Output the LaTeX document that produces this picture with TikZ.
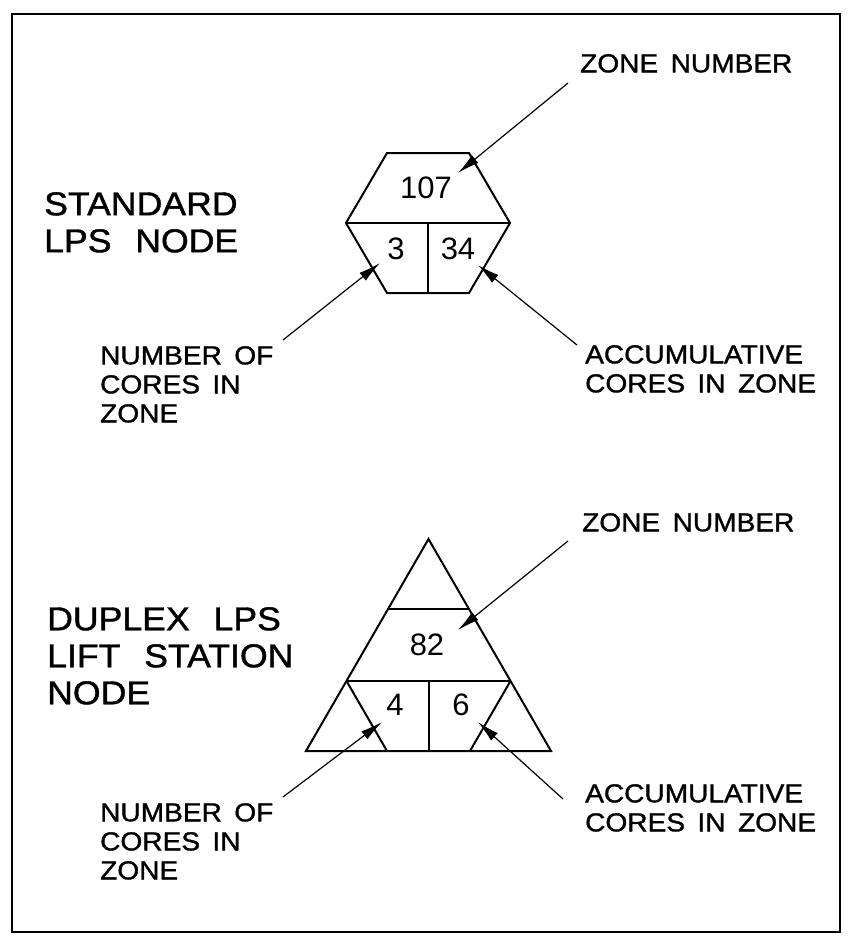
\documentclass[tikz,border=0pt]{standalone}
\usepackage{fontspec}
\setmainfont{Liberation Sans}[FakeStretch=1.08,WordSpace=1.6,FakeBold=1.2]
\newfontfamily\bigfam{Liberation Sans}[FakeStretch=1.08,WordSpace=2.4,FakeBold=1.2]
\newfontfamily\numfont{Liberation Sans}
\usetikzlibrary{arrows.meta}
\begin{document}
\begin{tikzpicture}[x=1pt,y=-1pt,
  outline/.style={line width=2pt,line join=miter},
  frameline/.style={line width=2pt},
  pointer/.style={line width=1.2pt,-{Latex[length=22pt,width=10pt]}},
  biglbl/.style={anchor=north west,inner sep=0pt,align=left,font=\bigfam\fontsize{33}{37}\selectfont},
  lbl/.style={anchor=north west,inner sep=0pt,align=left,font=\fontsize{26}{29}\selectfont},
  num/.style={inner sep=0pt,font=\numfont\fontsize{31}{31}\selectfont}]
\useasboundingbox (0,0) rectangle (852,946);
\draw[frameline] (12,14) rectangle (840,932);

% ---------- standard LPS node (hexagon)
\draw[outline] (387,153) -- (469,153) -- (510,223) -- (469,293) -- (387,293) -- (346,223) -- cycle;
\draw[outline] (346,223) -- (510,223);
\draw[outline] (428,223) -- (428,293);
\node[num] (zone1) at (426,188) {107};
\node[num] (cores1) at (396,249) {3};
\node[num] (acc1) at (458,249) {34};

\node[lbl] (zl1) at (580,54) {ZONE NUMBER};
\node[biglbl] (std) at (44,192) {STANDARD\\LPS NODE};
\node[lbl] (nc1) at (100,346) {NUMBER OF\\CORES IN\\ZONE};
\node[lbl] (ac1) at (585,345) {ACCUMULATIVE\\CORES IN ZONE};

\coordinate (t1a) at (568,83);  \coordinate (h1a) at (458,173);
\coordinate (t1b) at (283,340); \coordinate (h1b) at (380,263);
\coordinate (t1c) at (577,345); \coordinate (h1c) at (478,265);
\draw[pointer] (t1a) -- (h1a);
\draw[pointer] (t1b) -- (h1b);
\draw[pointer] (t1c) -- (h1c);

% ---------- duplex LPS lift station node (triangle)
\draw[outline] (428.5,539) -- (551,751) -- (306,751) -- cycle;
\draw[outline] (388,609) -- (469,609);
\draw[outline] (346.5,681) -- (510.5,681);
\draw[outline] (346.5,681) -- (387,751);
\draw[outline] (510.5,681) -- (470,751);
\draw[outline] (428.5,681) -- (428.5,751);
\node[num] (zone2) at (427,645) {82};
\node[num] (cores2) at (395,705) {4};
\node[num] (acc2) at (461,705) {6};

\node[lbl] (zl2) at (582,513) {ZONE NUMBER};
\node[biglbl] (dup) at (47,607) {DUPLEX LPS\\LIFT STATION\\NODE};
\node[lbl] (nc2) at (100,803) {NUMBER OF\\CORES IN\\ZONE};
\node[lbl] (ac2) at (585,784) {ACCUMULATIVE\\CORES IN ZONE};

\coordinate (t2a) at (568,541); \coordinate (h2a) at (458,630);
\coordinate (t2b) at (283,797); \coordinate (h2b) at (382,722);
\coordinate (t2c) at (563,799); \coordinate (h2c) at (478,722);
\draw[pointer] (t2a) -- (h2a);
\draw[pointer] (t2b) -- (h2b);
\draw[pointer] (t2c) -- (h2c);
\end{tikzpicture}
\end{document}
